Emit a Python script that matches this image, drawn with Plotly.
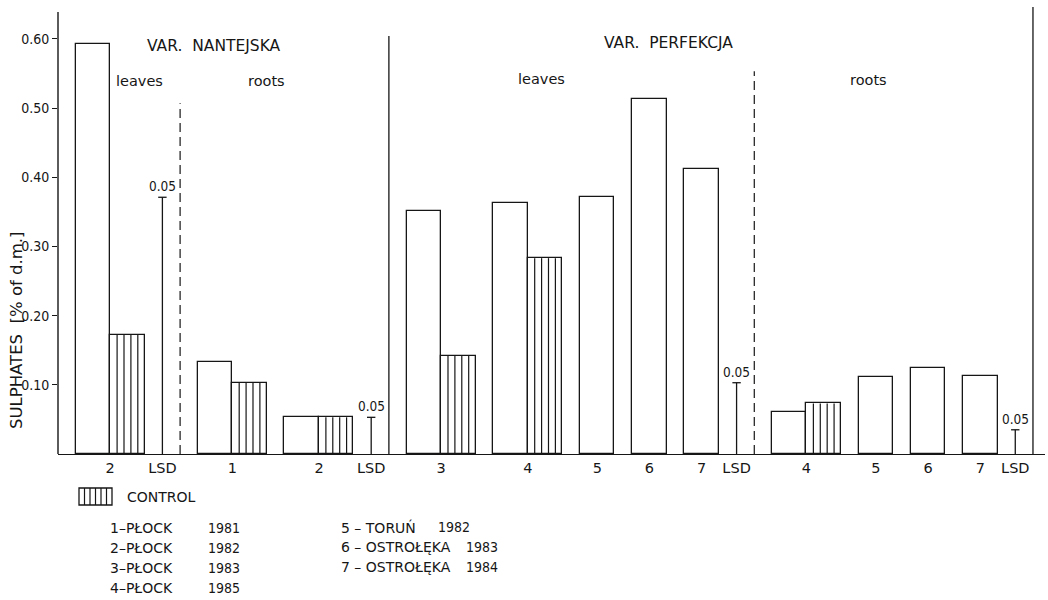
import plotly.graph_objects as go

# Sulphate content of carrot tissue (% of dry matter).
# Each section: site codes, treated value, control value (None = no control), LSD(0.05)
nant_leaves_sites = ["2"]
nant_leaves_treated = [0.592]
nant_leaves_control = [0.172]
nant_leaves_lsd = 0.371

nant_roots_sites = ["1", "2"]
nant_roots_treated = [0.133, 0.053]
nant_roots_control = [0.103, 0.053]
nant_roots_lsd = 0.053

perf_leaves_sites = ["3", "4", "5", "6", "7"]
perf_leaves_treated = [0.351, 0.363, 0.372, 0.513, 0.412]
perf_leaves_control = [0.142, 0.283, None, None, None]
perf_leaves_lsd = 0.103

perf_roots_sites = ["4", "5", "6", "7"]
perf_roots_treated = [0.061, 0.111, 0.124, 0.113]
perf_roots_control = [0.073, None, None, None]
perf_roots_lsd = 0.035

y_tick_values = [0.10, 0.20, 0.30, 0.40, 0.50, 0.60]
y_tick_labels = ["0.10", "0.20", "0.30", "0.40", "0.50", "0.60"]
lsd_tick_label = "LSD"
lsd_level_label = "0.05"

legend_left_sites = ["1–PŁOCK", "2–PŁOCK", "3–PŁOCK", "4–PŁOCK"]
legend_left_years = ["1981", "1982", "1983", "1985"]
legend_right_sites = ["5 – TORUŃ", "6 – OSTROŁĘKA", "7 – OSTROŁĘKA"]
legend_right_years = ["1982", "1983", "1984"]

# ---- geometry -------------------------------------------------------------
W, H = 1048, 600
M_L, M_R, M_T, M_B = 58, 3, 7, 146
PLOT_W = W - M_L - M_R
PLOT_H = H - M_T - M_B
BAR_PX = 34.5                     # one x unit = one bar width
Y_PX_PER_UNIT = 692.0             # pixels per 1.0 of the value axis
X_MAX = PLOT_W / BAR_PX
Y_MAX = PLOT_H / Y_PX_PER_UNIT
Y_AXIS_TOP = (H - M_B - 12) / Y_PX_PER_UNIT
GAP = 0.513
HATCH_LINES = 4                   # interior hatch strokes per control bar

FONT = "DejaVu Sans"
FONT_NARROW = "DejaVu Sans Condensed, DejaVu Sans"
INK = "#161616"


def px_x(p):
    return (p - M_L) / PLOT_W


def px_y(p):
    return (H - M_B - p) / PLOT_H


sections = [
    (nant_leaves_sites, nant_leaves_treated, nant_leaves_control, nant_leaves_lsd, "dash", 0.507),
    (nant_roots_sites, nant_roots_treated, nant_roots_control, nant_roots_lsd, "solid", 0.604),
    (perf_leaves_sites, perf_leaves_treated, perf_leaves_control, perf_leaves_lsd, "dash", 0.553),
    (perf_roots_sites, perf_roots_treated, perf_roots_control, perf_roots_lsd, "solid", Y_MAX),
]

plain_x, plain_y = [], []
ctrl_x, ctrl_y = [], []
lsd_x, lsd_y = [], []
tick_x, tick_text = [], []
separators = []

cursor = GAP
for sites, treated, control, lsd, sep_style, sep_top in sections:
    for site, t, c in zip(sites, treated, control):
        plain_x.append(cursor + 0.5)
        plain_y.append(t)
        if c is not None:
            ctrl_x.append(cursor + 1.5)
            ctrl_y.append(c)
            tick_x.append(cursor + 1.0)
            cursor += 2.0
        else:
            tick_x.append(cursor + 0.5)
            cursor += 1.0
        tick_text.append(site)
        cursor += GAP
    lsd_x.append(cursor)
    lsd_y.append(lsd)
    tick_x.append(cursor)
    tick_text.append(lsd_tick_label)
    cursor += GAP
    separators.append((cursor, sep_style, sep_top))
    cursor += GAP

fig = go.Figure()

fig.add_trace(go.Bar(
    x=plain_x, y=plain_y, width=1.0,
    marker=dict(color="white", line=dict(color=INK, width=1.3)),
    showlegend=False, hoverinfo="y",
))
fig.add_trace(go.Bar(
    x=ctrl_x, y=ctrl_y, width=1.0,
    marker=dict(color="white", line=dict(color=INK, width=1.3)),
    showlegend=False, hoverinfo="y",
))

# vertical hatching inside the control bars
hatch_x, hatch_y = [], []
for xc, yv in zip(ctrl_x, ctrl_y):
    for k in range(1, HATCH_LINES + 1):
        xv = xc - 0.5 + k / (HATCH_LINES + 1)
        hatch_x += [xv, xv, None]
        hatch_y += [0, yv, None]
fig.add_trace(go.Scatter(
    x=hatch_x, y=hatch_y, mode="lines",
    line=dict(color=INK, width=1.2), showlegend=False, hoverinfo="skip",
))

# LSD stems: a thin vertical line from zero with a short cap on top
stem_x, stem_y = [], []
for xv, yv in zip(lsd_x, lsd_y):
    stem_x += [xv, xv, None]
    stem_y += [0, yv, None]
fig.add_trace(go.Scatter(
    x=stem_x, y=stem_y, mode="lines",
    line=dict(color=INK, width=1.3), showlegend=False, hoverinfo="skip",
))
fig.add_trace(go.Scatter(
    x=lsd_x, y=lsd_y, mode="markers",
    marker=dict(symbol="line-ew", size=6, line=dict(color=INK, width=1.3)),
    showlegend=False, hoverinfo="y",
))

shapes = []
# value axis line (starts a little below the top of the frame)
shapes.append(dict(type="line", xref="paper", yref="y", x0=0, x1=0, y0=0, y1=Y_AXIS_TOP,
                   line=dict(color=INK, width=1.4)))
for xv, style, top in separators:
    shapes.append(dict(
        type="line", xref="x", yref="y", x0=xv, x1=xv, y0=0, y1=top,
        line=dict(color=INK, width=1.3 if style == "solid" else 1.2,
                  dash="solid" if style == "solid" else "9px,5px"),
    ))

# legend swatch for the control hatching
sw_x0, sw_x1, sw_y0, sw_y1 = 79, 112, 488, 505
shapes.append(dict(type="rect", xref="paper", yref="paper",
                   x0=px_x(sw_x0), x1=px_x(sw_x1), y0=px_y(sw_y1), y1=px_y(sw_y0),
                   line=dict(color=INK, width=1.3), fillcolor="white"))
for k in range(1, 6):
    xp = sw_x0 + (sw_x1 - sw_x0) * k / 6
    shapes.append(dict(type="line", xref="paper", yref="paper",
                       x0=px_x(xp), x1=px_x(xp), y0=px_y(sw_y1), y1=px_y(sw_y0),
                       line=dict(color=INK, width=1.2)))

annotations = []


def text(s, px, py, size=13.5, anchor="center", angle=0, family=FONT):
    annotations.append(dict(
        text=s, xref="paper", yref="paper", x=px_x(px), y=px_y(py),
        xanchor=anchor, yanchor="middle", showarrow=False, textangle=angle,
        font=dict(family=family, size=size, color=INK),
    ))


text("VAR.  NANTEJSKA", 214, 46, 15.5)
text("leaves", 139, 81, 14.5)
text("roots", 266, 81, 14.5)
text("VAR.  PERFEKCJA", 668, 43, 15.5)
text("leaves", 541, 79, 14.5)
text("roots", 868, 80, 14.5)

text("SULPHATES  [% of d.m.]", 16, 330, 16.5, angle=-90)

for xv, yv in zip(lsd_x, lsd_y):
    annotations.append(dict(
        text=lsd_level_label, xref="x", yref="y", x=xv, y=yv,
        xanchor="center", yanchor="bottom", showarrow=False, yshift=1,
        font=dict(family=FONT_NARROW, size=13.5, color=INK),
    ))

text("CONTROL", 125, 497, 14, anchor="left")
for i, (s, yr) in enumerate(zip(legend_left_sites, legend_left_years)):
    text(s, 108, 528 + 20 * i, 14, anchor="left")
    text(yr, 206, 528 + 20 * i, 14, anchor="left", family=FONT_NARROW)
right_year_px = [436, 464, 464]
for i, (s, yr) in enumerate(zip(legend_right_sites, legend_right_years)):
    text(s, 339, 527 + 20 * i, 14, anchor="left")
    text(yr, right_year_px[i], 527 + 20 * i, 14, anchor="left", family=FONT_NARROW)

fig.update_layout(
    width=W, height=H,
    margin=dict(l=M_L, r=M_R, t=M_T, b=M_B, pad=0),
    paper_bgcolor="white", plot_bgcolor="white",
    barmode="overlay", bargap=0,
    showlegend=False,
    shapes=shapes, annotations=annotations,
    font=dict(family=FONT, color=INK),
    xaxis=dict(
        range=[0, X_MAX], showgrid=False, zeroline=False,
        showline=True, linecolor=INK, linewidth=1.4,
        tickmode="array", tickvals=tick_x, ticktext=tick_text, ticks="",
        tickfont=dict(family=FONT, size=14.5, color=INK),
    ),
    yaxis=dict(
        range=[0, Y_MAX], showgrid=False, zeroline=False, showline=False,
        tickmode="array", tickvals=y_tick_values, ticktext=y_tick_labels,
        ticks="outside", ticklen=5, tickwidth=1.3, tickcolor=INK,
        tickfont=dict(family=FONT_NARROW, size=14, color=INK),
    ),
)

fig.write_html("out.html")
